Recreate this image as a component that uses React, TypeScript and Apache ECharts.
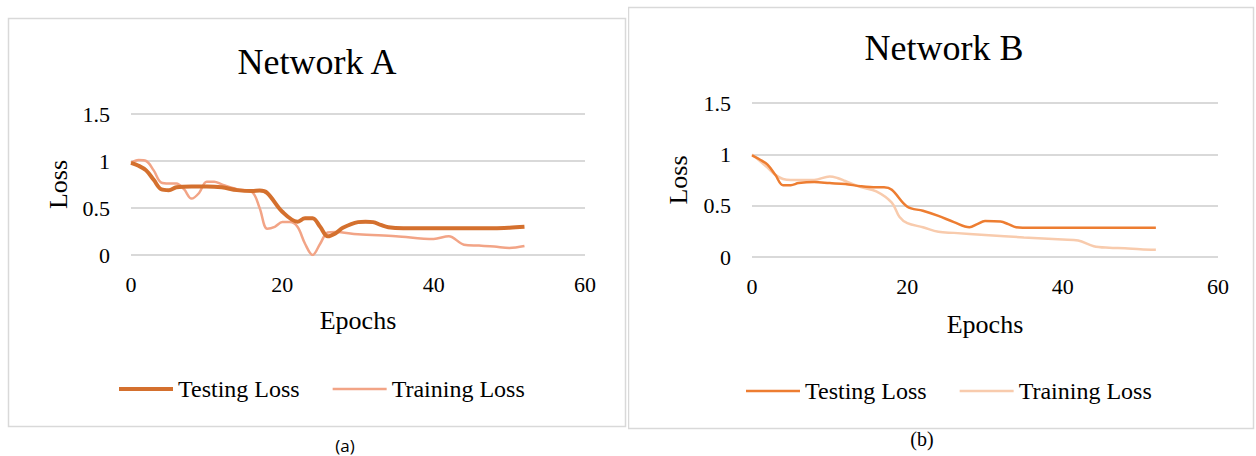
import React, { useEffect, useRef } from "react";
import * as echarts from "echarts";

// ---- Data ----
const epochTicks = [0, 20, 40, 60];
const lossTicks = [0, 0.5, 1, 1.5];

// Network A
const testA_epochs = [0, 1, 2, 3, 4, 5, 6, 8, 10, 12, 14, 16, 17, 18, 20, 22, 23, 24, 25, 26, 27, 28, 30, 31, 32, 33, 34, 36, 40, 44, 48, 50, 52];
const testA_loss = [0.98, 0.95, 0.9, 0.8, 0.7, 0.69, 0.72, 0.73, 0.73, 0.72, 0.69, 0.68, 0.685, 0.66, 0.46, 0.355, 0.39, 0.39, 0.3, 0.2, 0.23, 0.29, 0.35, 0.355, 0.35, 0.32, 0.295, 0.285, 0.285, 0.285, 0.285, 0.29, 0.3];
const trainA_epochs = [0, 1, 2, 3, 4, 5, 6, 7, 8, 9, 10, 11, 12, 14, 16, 17, 18, 19, 20, 21, 22, 23, 24, 25, 26, 27, 30, 35, 40, 42, 44, 46, 48, 50, 52];
const trainA_loss = [0.98, 1.01, 1.0, 0.9, 0.77, 0.76, 0.76, 0.7, 0.6, 0.66, 0.78, 0.78, 0.75, 0.7, 0.67, 0.5, 0.28, 0.3, 0.35, 0.35, 0.3, 0.12, 0.0, 0.12, 0.24, 0.245, 0.22, 0.2, 0.17, 0.2, 0.11, 0.1, 0.09, 0.075, 0.095];

// Network B
const testB_epochs = [0, 1, 2, 3, 4, 5, 6, 8, 10, 12, 14, 16, 17, 18, 20, 22, 24, 26, 28, 29, 30, 32, 33, 34, 36, 40, 44, 48, 52];
const testB_loss = [0.99, 0.95, 0.9, 0.8, 0.7, 0.7, 0.72, 0.73, 0.72, 0.71, 0.69, 0.68, 0.68, 0.655, 0.49, 0.45, 0.4, 0.34, 0.29, 0.32, 0.35, 0.345, 0.32, 0.29, 0.285, 0.285, 0.285, 0.285, 0.285];
const trainB_epochs = [0, 2, 3, 4, 5, 6, 8, 10, 11, 12, 14, 16, 18, 19, 20, 22, 24, 26, 30, 35, 40, 42, 44, 46, 48, 50, 52];
const trainB_loss = [1.0, 0.87, 0.8, 0.76, 0.75, 0.75, 0.75, 0.785, 0.77, 0.74, 0.68, 0.64, 0.53, 0.39, 0.33, 0.29, 0.245, 0.235, 0.215, 0.19, 0.17, 0.16, 0.105, 0.09, 0.085, 0.075, 0.07];

const seriesNames = ["Testing Loss", "Training Loss"];

const SERIF = "Liberation Serif";

function pairs(xs: number[], ys: number[]) {
  return xs.map((x, i) => [x, ys[i]]);
}

function barIcon(thickness: number) {
  return "path://M0 0H54V" + thickness + "H0Z";
}

type Cfg = {
  title: string;
  caption: string;
  captionFont: string;
  captionSize: number;
  captionX: number;
  captionY: number;
  border: { x: number; y: number; w: number; h: number };
  titleX: number;
  titleY: number;
  grid: { left: number; right: number; top: number; bottom: number };
  yNameGap: number;
  xNameGap: number;
  legendLeft: number;
  legendTop: number;
  colors: [string, string];
  widths: [number, number];
  test: number[][];
  train: number[][];
};

function buildOption(c: Cfg) {
  const maxW = Math.max(c.widths[0], c.widths[1]);
  return {
    animation: false,
    backgroundColor: "#ffffff",
    grid: { ...c.grid, containLabel: false },
    xAxis: {
      type: "value",
      min: epochTicks[0],
      max: epochTicks[epochTicks.length - 1],
      interval: epochTicks[1] - epochTicks[0],
      name: "Epochs",
      nameLocation: "middle",
      nameGap: c.xNameGap,
      nameTextStyle: { fontFamily: SERIF, fontSize: 26, color: "#000" },
      axisLine: { show: false },
      axisTick: { show: false },
      splitLine: { show: false },
      axisLabel: { fontFamily: SERIF, fontSize: 22, color: "#000", margin: 18 },
    },
    yAxis: {
      type: "value",
      min: lossTicks[0],
      max: lossTicks[lossTicks.length - 1],
      interval: lossTicks[1] - lossTicks[0],
      name: "Loss",
      nameLocation: "middle",
      nameGap: c.yNameGap,
      nameTextStyle: { fontFamily: SERIF, fontSize: 26, color: "#000" },
      axisLine: { show: false },
      axisTick: { show: false },
      splitLine: { lineStyle: { color: "#d9d9d9", width: 2 } },
      axisLabel: { fontFamily: SERIF, fontSize: 22, color: "#000", margin: 21 },
    },
    legend: {
      data: [
        { name: seriesNames[0], icon: barIcon(c.widths[0]) },
        { name: seriesNames[1], icon: barIcon(c.widths[1]) },
      ],
      left: c.legendLeft,
      top: c.legendTop,
      itemWidth: 54,
      itemHeight: maxW,
      itemGap: 33,
      padding: 0,
      symbolKeepAspect: true,
      textStyle: { fontFamily: SERIF, fontSize: 24, color: "#000" },
    },
    series: [
      {
        name: seriesNames[0],
        type: "line",
        smooth: 0.35,
        showSymbol: false,
        symbol: "none",
        data: c.test,
        lineStyle: { color: c.colors[0], width: c.widths[0] },
        itemStyle: { color: c.colors[0] },
        z: 3,
      },
      {
        name: seriesNames[1],
        type: "line",
        smooth: 0.35,
        showSymbol: false,
        symbol: "none",
        data: c.train,
        lineStyle: { color: c.colors[1], width: c.widths[1] },
        itemStyle: { color: c.colors[1] },
        z: 2,
      },
    ],
    graphic: [
      {
        type: "rect",
        shape: { x: c.border.x, y: c.border.y, width: c.border.w, height: c.border.h },
        style: { fill: "none", stroke: "#d9d9d9", lineWidth: 1.5 },
        silent: true,
        z: -10,
      },
      {
        type: "text",
        x: c.titleX,
        y: c.titleY,
        style: {
          text: c.title,
          fontFamily: SERIF,
          fontSize: 36,
          fill: "#000",
          textAlign: "center",
          textVerticalAlign: "middle",
        },
      },
      {
        type: "text",
        x: c.captionX,
        y: c.captionY,
        style: {
          text: c.caption,
          fontFamily: c.captionFont,
          fontSize: c.captionSize,
          fill: "#000",
          textAlign: "center",
          textVerticalAlign: "middle",
        },
      },
    ],
  };
}

const cfgA: Cfg = {
  title: "Network A",
  caption: "(a)",
  captionFont: "Open Sans",
  captionSize: 17,
  captionX: 345,
  captionY: 445,
  border: { x: 8.5, y: 18.5, w: 617, h: 408 },
  titleX: 317,
  titleY: 62,
  grid: { left: 131, right: 43, top: 114, bottom: 201 },
  yNameGap: 60,
  xNameGap: 52,
  legendLeft: 119,
  legendTop: 377,
  colors: ["#D4702E", "#F2A486"],
  widths: [4, 2.5],
  test: pairs(testA_epochs, testA_loss),
  train: pairs(trainA_epochs, trainA_loss),
};

const cfgB: Cfg = {
  title: "Network B",
  caption: "(b)",
  captionFont: SERIF,
  captionSize: 20,
  captionX: 294,
  captionY: 439,
  border: { x: 0.5, y: 7.5, w: 625, h: 421 },
  titleX: 316,
  titleY: 48,
  grid: { left: 124, right: 38, top: 103, bottom: 199 },
  yNameGap: 61,
  xNameGap: 54,
  legendLeft: 118,
  legendTop: 379,
  colors: ["#ED7D31", "#F8CBAD"],
  widths: [2.5, 2.5],
  test: pairs(testB_epochs, testB_loss),
  train: pairs(trainB_epochs, trainB_loss),
};

function Chart({ cfg, left }: { cfg: Cfg; left: number }) {
  const ref = useRef<HTMLDivElement>(null);
  useEffect(() => {
    if (!ref.current) return;
    const chart = echarts.init(ref.current, undefined, { renderer: "svg" });
    chart.setOption(buildOption(cfg) as any);
    return () => chart.dispose();
  }, [cfg]);
  return (
    <div
      ref={ref}
      style={{ position: "absolute", left, top: 0, width: 628, height: 456 }}
    />
  );
}

export default function App() {
  return (
    <div style={{ position: "absolute", left: 0, top: 0, width: 1256, height: 456, background: "#fff" }}>
      <Chart cfg={cfgA} left={0} />
      <Chart cfg={cfgB} left={628} />
    </div>
  );
}
